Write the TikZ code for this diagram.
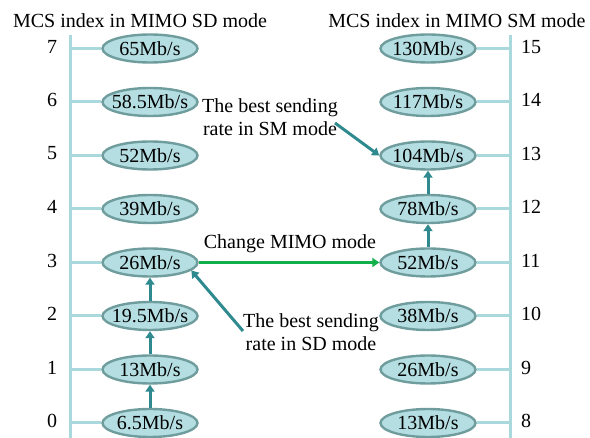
\documentclass[tikz,border=0pt]{standalone}
\usepackage{fontspec}
\setmainfont{Liberation Serif}
\usetikzlibrary{shapes.geometric,arrows.meta}
\definecolor{efill}{HTML}{B4DEE2}
\definecolor{edraw}{HTML}{6F9C9D}
\definecolor{axisc}{HTML}{A9D9DD}
\definecolor{tealc}{HTML}{2E8A8E}
\definecolor{greenc}{HTML}{10B04A}
\newcommand\rtxt[1]{\makebox[0pt]{#1}}
\tikzset{
  rate/.style={ellipse, draw=edraw, fill=efill, line width=2.4pt, minimum width=95pt, minimum height=28pt, inner sep=0pt},
  axisline/.style={axisc, line width=3pt},
  tick/.style={axisc, line width=3pt},
  up/.style={tealc, line width=3pt, -{Triangle[length=7pt,width=9pt]}},
  chg/.style={greenc, line width=2.6pt, -{Triangle[length=7pt,width=9pt]}},
  lbl/.style={inner sep=0pt, align=center},
}
\begin{document}
\begin{tikzpicture}[x=1pt,y=-1pt,font=\fontsize{20}{22.5}\selectfont]
\useasboundingbox (0,0) rectangle (590,438);
% titles
\node[lbl] (tl) at (140,21) {MCS index in MIMO SD mode};
\node[lbl] (tr) at (457,21) {MCS index in MIMO SM mode};
% axes
\coordinate (ltop) at (70,35);
\coordinate (lbot) at (70,438);
\coordinate (rtop) at (510,35);
\coordinate (rbot) at (510,438);
\draw[axisline] (ltop) -- (lbot);
\draw[axisline] (rtop) -- (rbot);
% rows
\foreach \k/\l/\r/\rr [evaluate=\k as \yy using 423-53.5*\k] in
  {0/6.5Mb\slash s/13Mb\slash s/8, 1/13Mb\slash s/26Mb\slash s/9, 2/19.5Mb\slash s/38Mb\slash s/10,
   3/26Mb\slash s/52Mb\slash s/11, 4/39Mb\slash s/78Mb\slash s/12, 5/52Mb\slash s/104Mb\slash s/13,
   6/58.5Mb\slash s/117Mb\slash s/14, 7/65Mb\slash s/130Mb\slash s/15}{
  \coordinate (la\k) at (70,\yy);
  \coordinate (ra\k) at (510,\yy);
  \node[rate] (l\k) at (150,\yy) {\rtxt{\l}};
  \node[rate] (r\k) at (428,\yy) {\rtxt{\r}};
  \node[lbl] (ln\k) at (52,\yy-2) {\k};
  \node[lbl, anchor=west] (rn\k) at (521,\yy-2) {\rr};
  \draw[tick] (la\k) -- (l\k.west);
  \draw[tick] (r\k.east) -- (ra\k);
}
% arrows
\draw[up] (l0) -- (l1);
\draw[up] (l1) -- (l2);
\draw[up] (l2) -- (l3);
\draw[up] (r3) -- (r4);
\draw[up] (r4) -- (r5);
\draw[chg] (l3.east) -- (r3.west);
\node[lbl] (chgl) at (290,244) {Change MIMO mode};
\node[lbl] (sm) at (270,117) {The best sending\\rate in SM mode};
\coordinate (smtail) at (335,123);
\draw[up] (smtail) -- (r5.west);
\node[lbl] (sd) at (311,332) {The best sending\\rate in SD mode};
\coordinate (sdtail) at (243,331);
\draw[up] (sdtail) -- (l3.-11);
\end{tikzpicture}
\end{document}
